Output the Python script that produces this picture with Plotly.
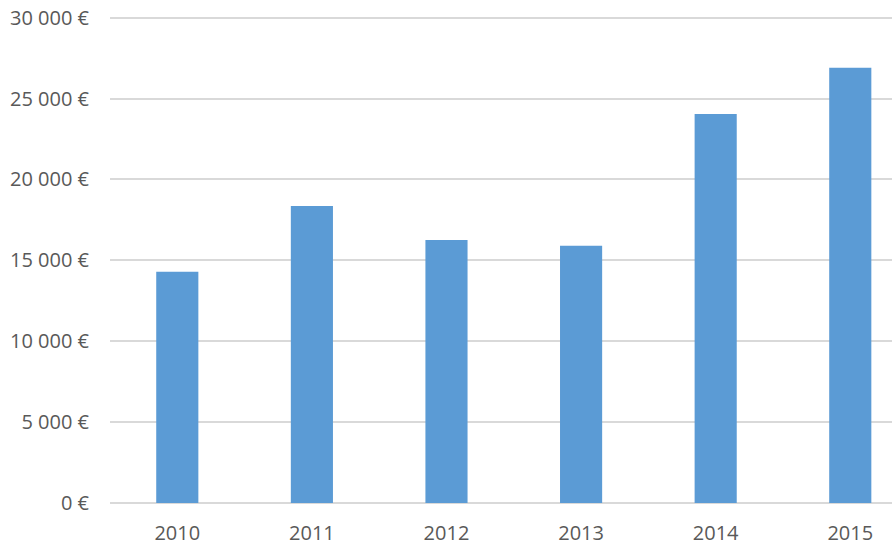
import plotly.graph_objects as go

years = ["2010", "2011", "2012", "2013", "2014", "2015"]
values = [14300, 18350, 16250, 15900, 24050, 26900]
y_ticks = [0, 5000, 10000, 15000, 20000, 25000, 30000]
y_tick_labels = ["0 €", "5 000 €", "10 000 €", "15 000 €", "20 000 €", "25 000 €", "30 000 €"]

fig = go.Figure(
    go.Bar(x=years, y=values, marker=dict(color="#5B9BD5", line=dict(width=0)), width=0.313)
)

fig.update_layout(
    width=892,
    height=557,
    margin=dict(l=110, r=0, t=16, b=54, pad=0),
    paper_bgcolor="white",
    plot_bgcolor="white",
    showlegend=False,
    font=dict(family="Open Sans", size=20, color="#595959"),
)
fig.update_xaxes(
    type="category",
    range=[-0.5, 5.31],
    showgrid=False,
    showline=False,
    ticks="",
    ticklabelstandoff=16,
    automargin=False,
)
fig.update_yaxes(
    range=[0, 30100],
    tickvals=y_ticks,
    ticktext=y_tick_labels,
    showgrid=True,
    gridcolor="#D9D9D9",
    gridwidth=1.5,
    zeroline=True,
    zerolinecolor="#D9D9D9",
    zerolinewidth=1.5,
    showline=False,
    ticks="",
    ticklabelstandoff=20,
    ticklabeloverflow="allow",
    automargin=False,
)

fig.write_html(
    "out.html",
    config={"displayModeBar": False},
    post_script="document.body.style.margin='0';document.body.style.overflow='hidden';",
)
